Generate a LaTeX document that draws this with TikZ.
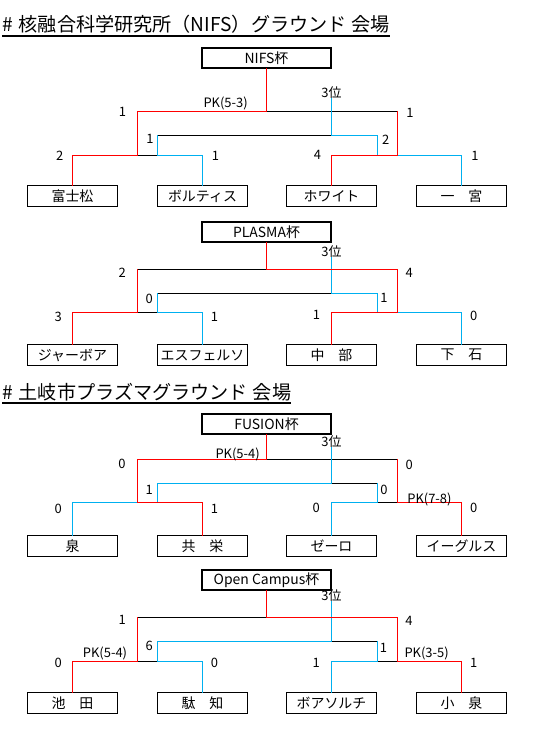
\documentclass[tikz,border=0pt]{standalone}
\usepackage{fontspec}
\setmainfont{Noto Sans CJK JP}
\definecolor{wred}{HTML}{FF0000}
\definecolor{lblue}{HTML}{00B0F0}
\tikzset{
  team/.style={draw, line width=1.1bp, minimum width=90bp, minimum height=21bp, inner sep=0pt, font=\fontsize{14}{14}\selectfont},
  cup/.style={draw, line width=2bp, minimum width=129bp, minimum height=20bp, inner sep=0pt, font=\fontsize{14}{14}\selectfont},
  score/.style={inner sep=0pt, font=\fontsize{13}{13}\selectfont},
  rankpos/.style={inner sep=0pt, font=\fontsize{13}{13}\selectfont},
  ttl/.style={inner sep=0pt, anchor=base west, font=\fontsize{19.2}{19.2}\selectfont},
  kl/.style={draw=black, line width=1.3bp, line cap=rect},
  bl/.style={draw=lblue, line width=1.4bp, line cap=rect},
  rl/.style={draw=wred, line width=1.4bp, line cap=rect},
  uline/.style={draw=black, line width=2bp},
}
\newcommand\bkcoords[4]{%
  \coordinate (#1s1) at (72.5,#4);
  \coordinate (#1s2) at (202.5,#4);
  \coordinate (#1s3) at (331.5,#4);
  \coordinate (#1s4) at (461.5,#4);
  \coordinate (#1sL) at (137.5,#4);
  \coordinate (#1sTL) at (157.5,#4);
  \coordinate (#1sTR) at (377.5,#4);
  \coordinate (#1sR) at (397.5,#4);
  \coordinate (#1tL) at (137.5,#2);
  \coordinate (#1tF) at (266.5,#2);
  \coordinate (#1tR) at (397.5,#2);
  \coordinate (#1hL) at (157.5,#3);
  \coordinate (#1hM) at (331.5,#3);
  \coordinate (#1hR) at (377.5,#3);
}
\begin{document}
\begin{tikzpicture}[x=1bp,y=-1bp]
\useasboundingbox (0,0) rectangle (539,730);

% ---------- titles ----------
\node[ttl] (t1) at (2,32) {\#\hspace{6pt}核融合科学研究所（NIFS）グラウンド\hspace{5pt}会場};
\draw[uline] ([yshift=-4bp]t1.base west) -- ([yshift=-4bp]t1.base east);
\node[ttl] (t2) at (2,399) {\#\hspace{6pt}土岐市プラズマグラウンド\hspace{5pt}会場};
\draw[uline] ([yshift=-4bp]t2.base west) -- ([yshift=-4bp]t2.base east);

% ---------- NIFS ----------
\bkcoords{a}{111.5}{135.5}{155.5}
\node[cup] (aCup) at (266.5,58) {NIFS杯};
\node[rankpos] (aPos) at (331.5,92.6) {3位};
\node[team] (aA) at (72.5,196) {富士松};
\node[team] (aB) at (202.5,196) {ボルティス};
\node[team] (aC) at (331.5,196) {ホワイト};
\node[team] (aD) at (461.5,196) {一　宮};
\draw[kl] (asL) -- (asTL) (atF) -- (atR) (ahL) -- (ahM);
\draw[bl] (aB.north) -- (as2) -- (asTL) -- (ahL)
          (aD.north) -- (as4) -- (asR)
          (asTR) -- (ahR) -- (ahM) -- (aPos.south);
\draw[rl] (aA.north) -- (as1) -- (asL) -- (atL) -- (atF) -- (aCup.south)
          (aC.north) -- (as3) -- (asR) -- (atR);
\node[score] (aPK) at (225.6,103.7) {PK(5-3)};
\node[score] (an1) at (122.5,112.3) {1};
\node[score] (an2) at (410,112.5) {1};
\node[score] (an3) at (150,139.3) {1};
\node[score] (an4) at (385.7,139.3) {2};
\node[score] (an5) at (59.7,156.2) {2};
\node[score] (an6) at (215.4,156) {1};
\node[score] (an7) at (317.5,155) {4};
\node[score] (an8) at (475,156) {1};

% ---------- PLASMA ----------
\bkcoords{b}{269.5}{293.5}{312.5}
\node[cup] (bCup) at (266.5,232) {PLASMA杯};
\node[rankpos] (bPos) at (331.5,252) {3位};
\node[team] (bA) at (72.5,355) {ジャーボア};
\node[team] (bB) at (202.5,355) {エスフェルソ};
\node[team] (bC) at (331.5,355) {中　部};
\node[team] (bD) at (461.5,355) {下　石};
\draw[kl] (bsL) -- (bsTL) (btL) -- (btF) (bhL) -- (bhM);
\draw[bl] (bB.north) -- (bs2) -- (bsTL) -- (bhL)
          (bD.north) -- (bs4) -- (bsR)
          (bsTR) -- (bhR) -- (bhM) -- (bPos.south);
\draw[rl] (bA.north) -- (bs1) -- (bsL) -- (btL)
          (bC.north) -- (bs3) -- (bsR) -- (btR) -- (btF) -- (bCup.south);
\node[score] (bn1) at (122.3,272.5) {2};
\node[score] (bn2) at (409.3,273) {4};
\node[score] (bn3) at (149.3,298.5) {0};
\node[score] (bn4) at (384,298) {1};
\node[score] (bn5) at (58.3,316.5) {3};
\node[score] (bn6) at (214.4,316.5) {1};
\node[score] (bn7) at (316.5,315) {1};
\node[score] (bn8) at (473.8,315.7) {0};

% ---------- FUSION ----------
\bkcoords{c}{459.5}{483.5}{502.5}
\node[cup] (cCup) at (266.5,424) {FUSION杯};
\node[rankpos] (cPos) at (331.5,442) {3位};
\node[team] (cA) at (72.5,546) {泉};
\node[team] (cB) at (202.5,546) {共　栄};
\node[team] (cC) at (331.5,546) {ゼーロ};
\node[team] (cD) at (461.5,546) {イーグルス};
\draw[kl] (csTR) -- (csR) (ctF) -- (ctR) (chM) -- (chR);
\draw[bl] (cA.north) -- (cs1) -- (csTL) -- (chL) -- (chM) -- (cPos.south)
          (cC.north) -- (cs3) -- (csTR) -- (chR);
\draw[rl] (cB.north) -- (cs2) -- (csL) -- (ctL) -- (ctF) -- (cCup.south)
          (cD.north) -- (cs4) -- (csR) -- (ctR);
\node[score] (cPK) at (237.6,454) {PK(5-4)};
\node[score] (cn1) at (122,463.5) {0};
\node[score] (cn2) at (409.3,465) {0};
\node[score] (cn3) at (149.3,489.5) {1};
\node[score] (cn4) at (384,490) {0};
\node[score] (cPKb) at (429.4,499.3) {PK(7-8)};
\node[score] (cn5) at (58.3,509) {0};
\node[score] (cn6) at (214.4,509) {1};
\node[score] (cn7) at (316.3,508) {0};
\node[score] (cn8) at (473.8,508) {0};

% ---------- Open Campus ----------
\bkcoords{d}{617.5}{641.5}{661.5}
\node[cup] (dCup) at (266.5,580) {Open Campus杯};
\node[rankpos] (dPos) at (331.5,596) {3位};
\node[team] (dA) at (72.5,703) {池　田};
\node[team] (dB) at (202.5,703) {駄　知};
\node[team] (dC) at (331.5,703) {ボアソルチ};
\node[team] (dD) at (461.5,703) {小　泉};
\draw[kl] (dsL) -- (dsTL) (dsTR) -- (dsR) (dtL) -- (dtF) (dhM) -- (dhR);
\draw[bl] (dB.north) -- (ds2) -- (dsTL) -- (dhL) -- (dhM) -- (dPos.south)
          (dC.north) -- (ds3) -- (dsTR) -- (dhR);
\draw[rl] (dA.north) -- (ds1) -- (dsL) -- (dtL)
          (dD.north) -- (ds4) -- (dsR) -- (dtR) -- (dtF) -- (dCup.south);
\node[score] (dn1) at (122.3,619.5) {1};
\node[score] (dn2) at (409,620.7) {4};
\node[score] (dn3) at (149.3,646) {6};
\node[score] (dn4) at (383.5,648) {1};
\node[score] (dPK) at (105,653.7) {PK(5-4)};
\node[score] (dPKb) at (426.6,653.7) {PK(3-5)};
\node[score] (dn5) at (58.3,663) {0};
\node[score] (dn6) at (214.4,663) {0};
\node[score] (dn7) at (316.3,663) {1};
\node[score] (dn8) at (473.8,663) {1};
\end{tikzpicture}
\end{document}
